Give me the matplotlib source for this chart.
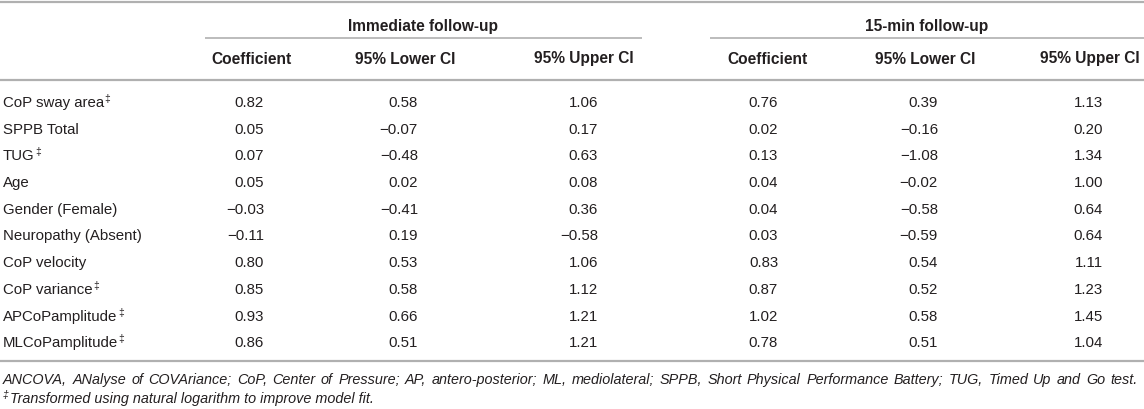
import matplotlib
matplotlib.use("Agg")
import matplotlib.pyplot as plt

plt.rcParams['font.family'] = ['Liberation Sans', 'DejaVu Sans']

groups = ["Immediate follow-up", "15-min follow-up"]
col_headers = ["Coefficient", "95% Lower CI", "95% Upper CI",
               "Coefficient", "95% Lower CI", "95% Upper CI"]
row_labels = ["CoP sway area", "SPPB Total", "TUG", "Age",
              "Gender (Female)", "Neuropathy (Absent)", "CoP velocity",
              "CoP variance", "APCoPamplitude", "MLCoPamplitude"]
row_marks = ["\u2021", "", "\u2021", "", "", "", "", "\u2021", "\u2021", "\u2021"]
imm_coef = ["0.82", "0.05", "0.07", "0.05", "\u22120.03", "\u22120.11", "0.80", "0.85", "0.93", "0.86"]
imm_lower = ["0.58", "\u22120.07", "\u22120.48", "0.02", "\u22120.41", "0.19", "0.53", "0.58", "0.66", "0.51"]
imm_upper = ["1.06", "0.17", "0.63", "0.08", "0.36", "\u22120.58", "1.06", "1.12", "1.21", "1.21"]
f15_coef = ["0.76", "0.02", "0.13", "0.04", "0.04", "0.03", "0.83", "0.87", "1.02", "0.78"]
f15_lower = ["0.39", "\u22120.16", "\u22121.08", "\u22120.02", "\u22120.58", "\u22120.59", "0.54", "0.52", "0.58", "0.51"]
f15_upper = ["1.13", "0.20", "1.34", "1.00", "0.64", "0.64", "1.11", "1.23", "1.45", "1.04"]
footnote1 = ("ANCOVA, ANalyse of COVAriance; CoP, Center of Pressure; AP, antero-posterior; "
             "ML, mediolateral; SPPB, Short Physical Performance Battery; TUG, Timed Up and Go test.")
footnote2_mark = "\u2021"
footnote2 = "Transformed using natural logarithm to improve model fit."

columns = [imm_coef, imm_lower, imm_upper, f15_coef, f15_lower, f15_upper]

W, H = 1144, 410
fig = plt.figure(figsize=(W / 100, H / 100), dpi=100)
ax = fig.add_axes([0, 0, 1, 1])
ax.set_xlim(0, W)
ax.set_ylim(H, 0)
ax.axis('off')
renderer = fig.canvas.get_renderer()

txt = '#231f20'
line_c = '#b0b0b0'
fs = 10.8
fs_b = 11.2
fs_note = 10.4
fs_sup = 7.5


def width_px(t):
    bb = t.get_window_extent(renderer=renderer)
    return bb.width


# layout
header_x = [251, 405, 584, 767, 925, 1090]
value_right = [264, 418, 598, 778, 938, 1103]
group_lines = [(205, 642), (710, 1144)]
y_top, y_group, y_gline, y_head, y_hline = 3, 26, 39, 59, 81
row_y0, row_dy = 103, 26.7
y_bottom = 362
y_note1, y_note2 = 380, 399
x_left = 3

ax.plot([0, W], [y_top, y_top], color=line_c, lw=1.6, solid_capstyle='butt')
for g, (a, b) in zip(groups, group_lines):
    ax.text((a + b) / 2, y_group, g, ha='center', va='center', fontsize=fs_b,
            fontweight='bold', color=txt)
    ax.plot([a, b], [y_gline, y_gline], color=line_c, lw=1.2, solid_capstyle='butt')
for h, hx in zip(col_headers, header_x):
    ax.text(hx, y_head, h, ha='center', va='center', fontsize=fs_b, fontweight='bold', color=txt)
ax.plot([0, W], [y_hline, y_hline], color=line_c, lw=1.6, solid_capstyle='butt')

for i, (lab, mark) in enumerate(zip(row_labels, row_marks)):
    y = row_y0 + i * row_dy
    t = ax.text(x_left, y, lab, ha='left', va='center', fontsize=fs, color=txt)
    if mark:
        ax.text(x_left + width_px(t) + 0.5, y - 4, mark, ha='left', va='center',
                fontsize=fs_sup, color=txt)
    for col, xr in zip(columns, value_right):
        ax.text(xr, y, col[i], ha='right', va='center', fontsize=fs, color=txt)

ax.plot([0, W], [y_bottom, y_bottom], color=line_c, lw=1.6, solid_capstyle='butt')

# justified first footnote line
words = footnote1.split(" ")
x_right_note = 1138
tmp = [ax.text(0, y_note1, w, fontsize=fs_note, style='italic') for w in words]
wids = [width_px(t) for t in tmp]
for t in tmp:
    t.remove()
gap = (x_right_note - x_left - sum(wids)) / (len(words) - 1)
x = x_left
for w, wd in zip(words, wids):
    ax.text(x, y_note1, w, ha='left', va='center', fontsize=fs_note, style='italic', color=txt)
    x += wd + gap

m = ax.text(x_left, y_note2 - 4, footnote2_mark, ha='left', va='center', fontsize=fs_sup,
            style='italic', color=txt)
ax.text(x_left + width_px(m) + 1, y_note2, footnote2, ha='left', va='center',
        fontsize=fs_note, style='italic', color=txt)

fig.savefig("out.png", dpi=100, facecolor='white')
